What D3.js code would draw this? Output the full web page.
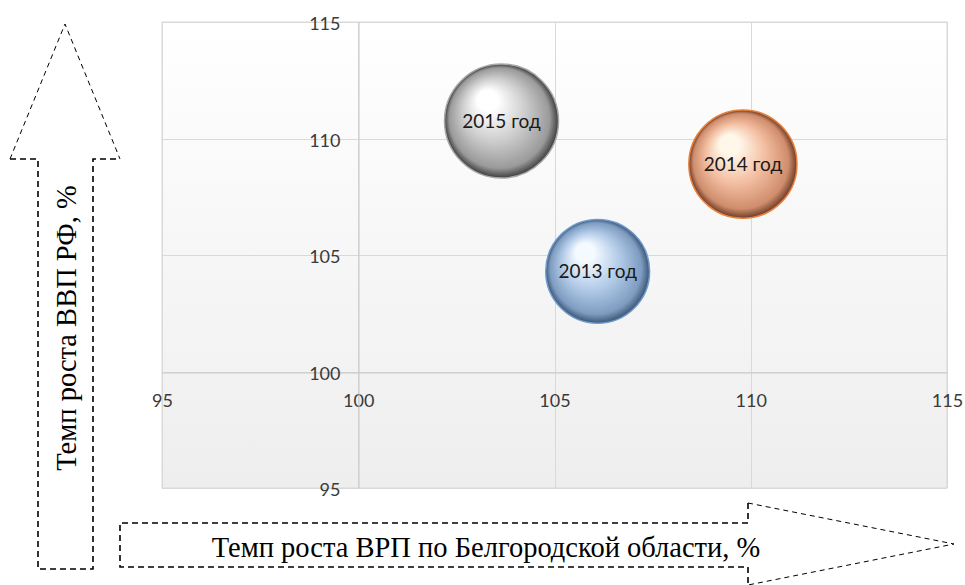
<!DOCTYPE html>
<html>
<head>
<meta charset="utf-8">
<script src="https://cdn.jsdelivr.net/npm/d3@7"></script>
<style>
  html, body { margin: 0; padding: 0; background: #fff; }
  svg { display: block; }
</style>
</head>
<body>
<div id="chart"></div>
<script>
(function (d3) {
  'use strict';

  // data
  var years = ['2013 год', '2014 год', '2015 год'];
  var vrpGrowth = [106.1, 109.8, 103.65];   // x: Belgorod region GRP growth, %
  var vvpGrowth = [104.3, 108.9, 110.75];   // y: Russia GDP growth, %
  var bubbleSize = [0.83, 0.9, 1.0];
  var xTicks = [95, 100, 105, 110, 115];
  var yTicks = [95, 100, 105, 110, 115];

  var palettes = {
    '2013 год': { hi: '#f4faff', mid: '#b2cbe8', lo: '#7e9cc0', edge: '#3c5574', stroke: '#6d9bcf' },
    '2014 год': { hi: '#fff8ea', mid: '#f3bea2', lo: '#cf8d6c', edge: '#6e3c28', stroke: '#e8803a' },
    '2015 год': { hi: '#ffffff', mid: '#cdcdcd', lo: '#9a9a9a', edge: '#3e3e3e', stroke: '#a8a8a8' }
  };

  var W = 965, H = 585;
  var plot = { left: 162, top: 22, right: 947, bottom: 488 };

  var svg = d3.select('#chart').append('svg')
    .attr('width', W).attr('height', H);

  var defs = svg.append('defs');

  var bg = defs.append('linearGradient').attr('id', 'plotBg')
    .attr('x1', 0).attr('y1', 0).attr('x2', 0).attr('y2', 1);
  bg.append('stop').attr('offset', '0%').attr('stop-color', '#ffffff');
  bg.append('stop').attr('offset', '100%').attr('stop-color', '#eeeeee');

  years.forEach(function (y, i) {
    var p = palettes[y];
    var g = defs.append('radialGradient').attr('id', 'ball' + i)
      .attr('cx', '50%').attr('cy', '50%').attr('r', '50%')
      .attr('fx', '35%').attr('fy', '28%');
    g.append('stop').attr('offset', '0%').attr('stop-color', p.hi);
    g.append('stop').attr('offset', '18%').attr('stop-color', p.hi);
    g.append('stop').attr('offset', '55%').attr('stop-color', p.mid);
    g.append('stop').attr('offset', '88%').attr('stop-color', p.lo);
    g.append('stop').attr('offset', '100%').attr('stop-color', p.edge);
  });

  var x = d3.scaleLinear().domain([95, 115]).range([plot.left, plot.right]);
  var y = d3.scaleLinear().domain([95, 115]).range([plot.bottom, plot.top]);
  var r = d3.scaleSqrt().domain([0, 1]).range([0, 57]);

  // plot area
  svg.append('rect')
    .attr('x', plot.left).attr('y', plot.top)
    .attr('width', plot.right - plot.left).attr('height', plot.bottom - plot.top)
    .attr('fill', 'url(#plotBg)')
    .attr('stroke', '#d9d9d9').attr('stroke-width', 1);

  svg.append('g').selectAll('line').data(yTicks).enter().append('line')
    .attr('x1', plot.left).attr('x2', plot.right)
    .attr('y1', function (d) { return Math.round(y(d)) + 0.5; })
    .attr('y2', function (d) { return Math.round(y(d)) + 0.5; })
    .attr('stroke', '#d9d9d9');

  svg.append('g').selectAll('line').data(xTicks).enter().append('line')
    .attr('y1', plot.top).attr('y2', plot.bottom)
    .attr('x1', function (d) { return Math.round(x(d)) + 0.5; })
    .attr('x2', function (d) { return Math.round(x(d)) + 0.5; })
    .attr('stroke', '#d9d9d9');

  // axes cross at 100 / 100
  var xAxis = d3.axisBottom(x).tickValues(xTicks).tickSize(0).tickPadding(22);
  var yAxis = d3.axisLeft(y).tickValues(yTicks).tickSize(0).tickPadding(18);

  var gx = svg.append('g')
    .attr('transform', 'translate(0,' + (Math.round(y(100)) + 0.5) + ')')
    .call(xAxis);
  var gy = svg.append('g')
    .attr('transform', 'translate(' + (Math.round(x(100)) + 0.5) + ',0)')
    .call(yAxis);

  [gx, gy].forEach(function (g) {
    g.select('.domain').attr('stroke', '#c8c8c8');
    g.selectAll('text')
      .attr('font-family', 'Lato, "Open Sans", sans-serif')
      .attr('font-size', 18)
      .attr('fill', '#3a3a3a');
  });
  gy.selectAll('text').attr('dy', '0.42em');

  // bubbles
  var balls = svg.append('g').selectAll('g').data(years).enter().append('g')
    .attr('transform', function (d, i) {
      return 'translate(' + x(vrpGrowth[i]) + ',' + y(vvpGrowth[i]) + ')';
    });

  balls.append('circle')
    .attr('r', function (d, i) { return r(bubbleSize[i]); })
    .attr('fill', function (d, i) { return 'url(#ball' + i + ')'; })
    .attr('stroke', function (d) { return palettes[d].stroke; })
    .attr('stroke-width', 1.5);

  balls.append('text')
    .attr('text-anchor', 'middle')
    .attr('dy', '0.35em')
    .attr('font-family', 'Lato, "Open Sans", sans-serif')
    .attr('font-size', 19)
    .attr('fill', '#1a1a1a')
    .text(function (d) { return d; });

  // dashed arrows around axis titles
  var arrows = svg.append('g').attr('fill', 'none').attr('stroke', '#000');

  // vertical arrow
  arrows.append('path')
    .attr('d', 'M10,159 L65,24 L120,159')
    .attr('stroke-width', 1).attr('stroke-dasharray', '5,4');
  arrows.append('path')
    .attr('d', 'M10,159 H38 V569 H93 V159 H120')
    .attr('stroke-width', 1.6).attr('stroke-dasharray', '6,4');

  // horizontal arrow
  arrows.append('path')
    .attr('d', 'M748,503 L954,544 L748,585')
    .attr('stroke-width', 1).attr('stroke-dasharray', '5,4');
  arrows.append('path')
    .attr('d', 'M748,503 V523 H120 V567 H748 V585')
    .attr('stroke-width', 1.6).attr('stroke-dasharray', '6,4');

  svg.append('text')
    .attr('x', 486).attr('y', 557)
    .attr('text-anchor', 'middle')
    .attr('font-family', '"Liberation Serif", "Times New Roman", serif')
    .attr('font-size', 28.5)
    .text('Темп роста ВРП по Белгородской области, %');

  svg.append('text')
    .attr('transform', 'translate(76,328) rotate(-90)')
    .attr('text-anchor', 'middle')
    .attr('font-family', '"Liberation Serif", "Times New Roman", serif')
    .attr('font-size', 28.5)
    .text('Темп роста ВВП РФ, %');

}(window.d3));
</script>
</body>
</html>
